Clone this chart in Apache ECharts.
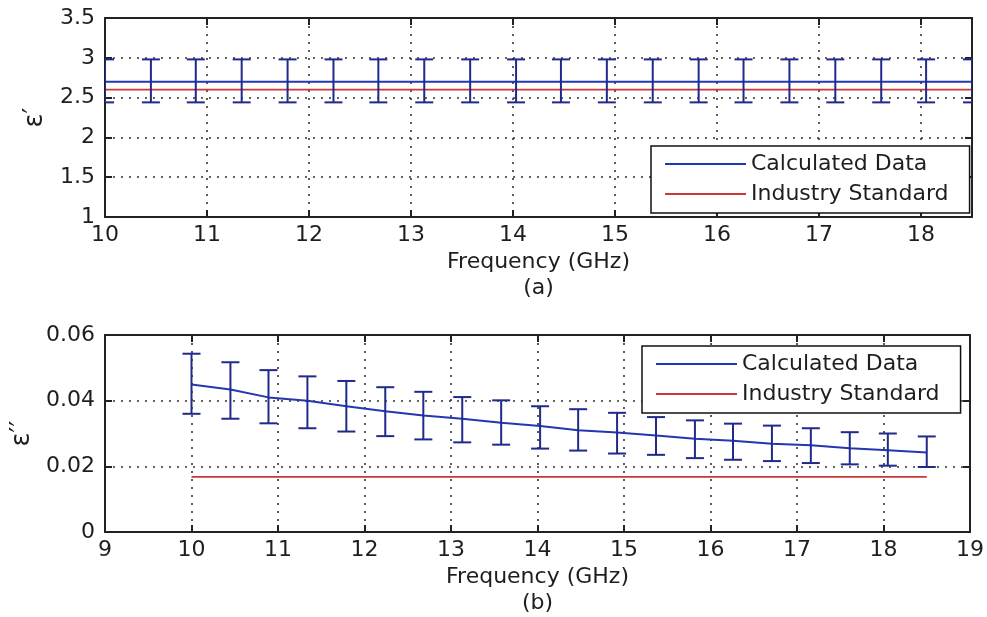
<!DOCTYPE html>
<html>
<head>
<meta charset="utf-8">
<script src="https://cdn.jsdelivr.net/npm/echarts@6/dist/echarts.min.js"></script>
<style>
  html, body { margin: 0; padding: 0; background: #fff; }
  #chart { width: 987px; height: 617px; }
</style>
</head>
<body>
<div id="chart"></div>
<script>
// ---- data ----
const freq = [10, 10.45, 10.89, 11.34, 11.79, 12.24, 12.68, 13.13, 13.58, 14.03, 14.47, 14.92, 15.37, 15.82, 16.26, 16.71, 17.16, 17.61, 18.05, 18.5];

const epsRealCalc = [2.7, 2.7, 2.7, 2.7, 2.7, 2.7, 2.7, 2.7, 2.7, 2.7, 2.7, 2.7, 2.7, 2.7, 2.7, 2.7, 2.7, 2.7, 2.7, 2.7];
const epsRealLow  = [2.44, 2.44, 2.44, 2.44, 2.44, 2.44, 2.44, 2.44, 2.44, 2.44, 2.44, 2.44, 2.44, 2.44, 2.44, 2.44, 2.44, 2.44, 2.44, 2.44];
const epsRealHigh = [2.98, 2.98, 2.98, 2.98, 2.98, 2.98, 2.98, 2.98, 2.98, 2.98, 2.98, 2.98, 2.98, 2.98, 2.98, 2.98, 2.98, 2.98, 2.98, 2.98];
const epsRealStd  = [2.6, 2.6, 2.6, 2.6, 2.6, 2.6, 2.6, 2.6, 2.6, 2.6, 2.6, 2.6, 2.6, 2.6, 2.6, 2.6, 2.6, 2.6, 2.6, 2.6];

const epsImagCalc = [0.0449, 0.0434, 0.0410, 0.0400, 0.0383, 0.0368, 0.0355, 0.0345, 0.0333, 0.0323, 0.0310, 0.0303, 0.0294, 0.0284, 0.0278, 0.0269, 0.0264, 0.0255, 0.0249, 0.0242];
const epsImagLow  = [0.0360, 0.0345, 0.0331, 0.0316, 0.0306, 0.0292, 0.0282, 0.0273, 0.0266, 0.0254, 0.0248, 0.0239, 0.0235, 0.0225, 0.0220, 0.0216, 0.0210, 0.0206, 0.0202, 0.0198];
const epsImagHigh = [0.0543, 0.0517, 0.0493, 0.0474, 0.0460, 0.0441, 0.0427, 0.0411, 0.0401, 0.0383, 0.0374, 0.0363, 0.0350, 0.0340, 0.0330, 0.0324, 0.0316, 0.0304, 0.0300, 0.0291];
const epsImagStd  = [0.0168, 0.0168, 0.0168, 0.0168, 0.0168, 0.0168, 0.0168, 0.0168, 0.0168, 0.0168, 0.0168, 0.0168, 0.0168, 0.0168, 0.0168, 0.0168, 0.0168, 0.0168, 0.0168, 0.0168];

const seriesNames = ['Calculated Data', 'Industry Standard'];
const xTitleA = 'Frequency (GHz)\n(a)';
const xTitleB = 'Frequency (GHz)\n(b)';
const yTitleA = 'ε′';
const yTitleB = 'ε′′';

// ---- styling ----
const FONT = 'DejaVu Sans';
const TXT = '#1e1e1e';
const AX = '#222';
const BLUE_LINE = '#2436b0';
const BLUE_BAR = '#1f2a8a';
const RED = '#cc3838';
const dotted = { color: '#333', width: 1.6, type: [2, 6] };

function zip(a, b) { return a.map((v, i) => [v, b[i]]); }
function zip3(a, b, c) { return a.map((v, i) => [v, b[i], c[i]]); }

function errorBarRender(params, api) {
  const x = api.value(0);
  const lo = api.coord([x, api.value(1)]);
  const hi = api.coord([x, api.value(2)]);
  const hw = 9;
  const st = { stroke: BLUE_BAR, lineWidth: 2 };
  return {
    type: 'group',
    children: [
      { type: 'line', shape: { x1: lo[0], y1: lo[1], x2: hi[0], y2: hi[1] }, style: st },
      { type: 'line', shape: { x1: hi[0] - hw, y1: hi[1], x2: hi[0] + hw, y2: hi[1] }, style: st },
      { type: 'line', shape: { x1: lo[0] - hw, y1: lo[1], x2: lo[0] + hw, y2: lo[1] }, style: st }
    ]
  };
}

function mainX(grid, min, max, name) {
  return {
    type: 'value', gridIndex: grid, position: 'bottom', min: min, max: max, interval: 1,
    name: name, nameLocation: 'middle', nameGap: 32,
    nameTextStyle: { fontFamily: FONT, fontSize: 22, color: TXT, lineHeight: 26 },
    axisLine: { show: true, onZero: false, lineStyle: { color: AX, width: 2 } },
    axisTick: { show: true, inside: true, length: 7, lineStyle: { color: AX, width: 2 } },
    axisLabel: { fontFamily: FONT, fontSize: 22, color: TXT, margin: 7,
      formatter: v => (Math.abs(v - Math.round(v)) < 1e-9 ? String(Math.round(v)) : '') },
    splitLine: { show: true, lineStyle: dotted }
  };
}
function topX(grid, min, max) {
  return {
    type: 'value', gridIndex: grid, position: 'top', min: min, max: max, interval: 1,
    axisLine: { show: true, onZero: false, lineStyle: { color: AX, width: 2 } },
    axisTick: { show: true, inside: true, length: 7, lineStyle: { color: AX, width: 2 } },
    axisLabel: { show: false }, splitLine: { show: false }
  };
}
function leftY(grid, min, max, interval, name, gap, fmt) {
  return {
    type: 'value', gridIndex: grid, position: 'left', min: min, max: max, interval: interval,
    name: name, nameLocation: 'middle', nameGap: gap, nameRotate: 90,
    nameTextStyle: { fontFamily: FONT, fontSize: 26, color: TXT },
    axisLine: { show: true, onZero: false, lineStyle: { color: AX, width: 2 } },
    axisTick: { show: true, inside: true, length: 7, lineStyle: { color: AX, width: 2 } },
    axisLabel: { fontFamily: FONT, fontSize: 22, color: TXT, margin: 10, formatter: fmt },
    splitLine: { show: true, lineStyle: dotted }
  };
}
function rightY(grid, min, max, interval) {
  return {
    type: 'value', gridIndex: grid, position: 'right', min: min, max: max, interval: interval,
    axisLine: { show: true, onZero: false, lineStyle: { color: AX, width: 2 } },
    axisTick: { show: true, inside: true, length: 7, lineStyle: { color: AX, width: 2 } },
    axisLabel: { show: false }, splitLine: { show: false }
  };
}

function legendAt(left, top) {
  return {
    data: seriesNames, orient: 'vertical', left: left, top: top,
    icon: 'rect', itemWidth: 81, itemHeight: 2, itemGap: 8,
    padding: [7, 21, 8, 14], backgroundColor: '#fff',
    borderColor: '#111', borderWidth: 1.5, borderRadius: 0,
    selectedMode: false,
    textStyle: { fontFamily: FONT, fontSize: 22, color: TXT, lineHeight: 22 }
  };
}

const option = {
  animation: false,
  backgroundColor: '#fff',
  grid: [
    { left: 105, top: 18, width: 867, height: 199, containLabel: false },
    { left: 105, top: 335, width: 867, height: 198, containLabel: false }
  ],
  xAxis: [
    mainX(0, 10, 18.5, xTitleA),
    topX(0, 10, 18.5),
    mainX(1, 9, 19, xTitleB),
    topX(1, 9, 19)
  ],
  yAxis: [
    leftY(0, 1, 3.5, 0.5, yTitleA, 57, v => String(v)),
    rightY(0, 1, 3.5, 0.5),
    leftY(1, 0, 0.06, 0.02, yTitleB, 63, v => (v === 0 ? '0' : v.toFixed(2))),
    rightY(1, 0, 0.06, 0.02)
  ],
  legend: [legendAt(651, 146), legendAt(642, 346)],
  series: [
    { name: seriesNames[0], type: 'line', xAxisIndex: 0, yAxisIndex: 0, data: zip(freq, epsRealCalc),
      symbol: 'none', color: BLUE_LINE, lineStyle: { color: BLUE_LINE, width: 2 }, z: 3 },
    { name: seriesNames[1], type: 'line', xAxisIndex: 0, yAxisIndex: 0, data: zip(freq, epsRealStd),
      symbol: 'none', color: RED, lineStyle: { color: RED, width: 1.6 }, z: 2 },
    { name: 'errA', type: 'custom', xAxisIndex: 0, yAxisIndex: 0, data: zip3(freq, epsRealLow, epsRealHigh),
      renderItem: errorBarRender, clip: true, z: 4 },
    { name: seriesNames[0], type: 'line', xAxisIndex: 2, yAxisIndex: 2, data: zip(freq, epsImagCalc),
      symbol: 'none', color: BLUE_LINE, lineStyle: { color: BLUE_LINE, width: 2 }, z: 3 },
    { name: seriesNames[1], type: 'line', xAxisIndex: 2, yAxisIndex: 2, data: zip(freq, epsImagStd),
      symbol: 'none', color: RED, lineStyle: { color: RED, width: 1.6 }, z: 2 },
    { name: 'errB', type: 'custom', xAxisIndex: 2, yAxisIndex: 2, data: zip3(freq, epsImagLow, epsImagHigh),
      renderItem: errorBarRender, clip: true, z: 4 }
  ]
};

const chart = echarts.init(document.getElementById('chart'), null, { renderer: 'canvas' });
chart.setOption(option);
</script>
</body>
</html>
